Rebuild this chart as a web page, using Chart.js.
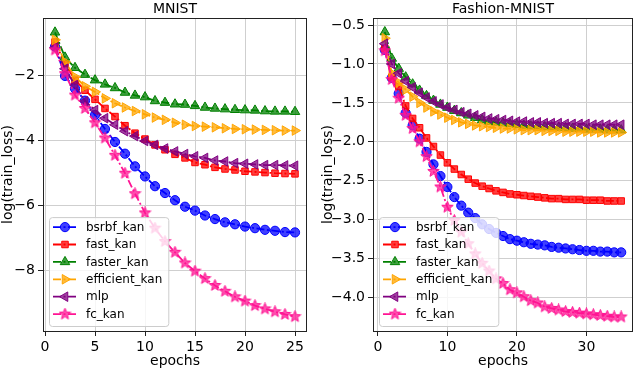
<!DOCTYPE html>
<html>
<head>
<meta charset="utf-8">
<script src="https://cdn.jsdelivr.net/npm/chart.js@4.4.1/dist/chart.umd.min.js"></script>
<style>
  html, body { margin: 0; padding: 0; background: #fff; }
  #wrap { position: relative; width: 640px; height: 368px; }
  .pane { position: absolute; top: 0; width: 320px; height: 368px; }
</style>
</head>
<body>
<div id="wrap">
  <div class="pane" style="left:0"><canvas id="mnist" width="320" height="368"></canvas></div>
  <div class="pane" style="left:320px"><canvas id="fashion" width="320" height="368"></canvas></div>
</div>
<script>
// series names, same order in both panels
const seriesNames = ['bsrbf_kan', 'fast_kan', 'faster_kan', 'efficient_kan', 'mlp', 'fc_kan'];

// MNIST: epochs 1..25
const mnistEpochs = [1,2,3,4,5,6,7,8,9,10,11,12,13,14,15,16,17,18,19,20,21,22,23,24,25];
const mnistBsrbf = [-1.12,-2.02,-2.41,-2.78,-3.22,-3.65,-4.05,-4.41,-4.80,-5.11,-5.41,-5.62,-5.84,-6.04,-6.16,-6.31,-6.42,-6.52,-6.58,-6.65,-6.70,-6.75,-6.78,-6.82,-6.83];
const mnistFast = [-0.98,-1.64,-2.15,-2.46,-2.74,-3.02,-3.27,-3.55,-3.78,-3.96,-4.14,-4.29,-4.43,-4.54,-4.68,-4.75,-4.83,-4.88,-4.91,-4.95,-4.97,-4.99,-5.01,-5.02,-5.03];
const mnistFaster = [-0.68,-1.45,-1.77,-1.98,-2.15,-2.28,-2.39,-2.53,-2.62,-2.67,-2.79,-2.84,-2.89,-2.90,-2.94,-2.99,-3.02,-3.04,-3.06,-3.07,-3.08,-3.10,-3.11,-3.11,-3.12];
const mnistEfficient = [-0.91,-1.59,-2.05,-2.34,-2.51,-2.71,-2.86,-2.99,-3.10,-3.20,-3.30,-3.37,-3.46,-3.52,-3.56,-3.58,-3.60,-3.63,-3.65,-3.66,-3.67,-3.68,-3.69,-3.70,-3.70];
const mnistMlp = [-1.15,-1.80,-2.30,-2.80,-3.07,-3.32,-3.52,-3.72,-3.87,-4.02,-4.14,-4.25,-4.34,-4.42,-4.49,-4.54,-4.62,-4.65,-4.70,-4.72,-4.74,-4.76,-4.76,-4.77,-4.78];
const mnistFc = [-1.22,-1.95,-2.61,-3.02,-3.46,-3.93,-4.46,-5.01,-5.64,-6.23,-6.70,-7.11,-7.44,-7.77,-8.02,-8.25,-8.46,-8.64,-8.81,-8.94,-9.08,-9.18,-9.27,-9.35,-9.42];
const mnistXTicks = [0, 5, 10, 15, 20, 25];
const mnistYTicks = [-2, -4, -6, -8];

// Fashion-MNIST: epochs 1..35
const fashionEpochs = [1,2,3,4,5,6,7,8,9,10,11,12,13,14,15,16,17,18,19,20,21,22,23,24,25,26,27,28,29,30,31,32,33,34,35];
const fashionBsrbf = [-0.82,-1.18,-1.38,-1.63,-1.79,-1.96,-2.13,-2.29,-2.44,-2.58,-2.71,-2.82,-2.91,-2.98,-3.06,-3.12,-3.17,-3.21,-3.25,-3.27,-3.29,-3.31,-3.32,-3.33,-3.35,-3.36,-3.37,-3.38,-3.39,-3.40,-3.40,-3.41,-3.41,-3.42,-3.42];
const fashionFast = [-0.80,-1.17,-1.29,-1.54,-1.70,-1.82,-1.95,-2.06,-2.17,-2.27,-2.35,-2.42,-2.48,-2.53,-2.57,-2.60,-2.63,-2.65,-2.67,-2.68,-2.69,-2.70,-2.71,-2.72,-2.73,-2.73,-2.74,-2.74,-2.74,-2.75,-2.75,-2.75,-2.76,-2.76,-2.76];
const fashionFaster = [-0.59,-0.93,-1.06,-1.17,-1.26,-1.34,-1.41,-1.47,-1.52,-1.56,-1.60,-1.63,-1.66,-1.69,-1.72,-1.74,-1.75,-1.76,-1.77,-1.78,-1.79,-1.80,-1.80,-1.81,-1.81,-1.82,-1.82,-1.83,-1.83,-1.84,-1.84,-1.84,-1.85,-1.85,-1.85];
const fashionEfficient = [-0.67,-1.12,-1.24,-1.33,-1.42,-1.50,-1.56,-1.61,-1.65,-1.69,-1.72,-1.75,-1.77,-1.79,-1.80,-1.81,-1.82,-1.83,-1.83,-1.84,-1.85,-1.85,-1.85,-1.86,-1.86,-1.86,-1.87,-1.87,-1.87,-1.87,-1.87,-1.88,-1.88,-1.88,-1.88];
const fashionMlp = [-0.74,-1.00,-1.12,-1.22,-1.30,-1.37,-1.43,-1.48,-1.52,-1.56,-1.59,-1.62,-1.64,-1.66,-1.68,-1.70,-1.71,-1.72,-1.73,-1.74,-1.74,-1.75,-1.75,-1.76,-1.76,-1.76,-1.77,-1.77,-1.77,-1.77,-1.78,-1.78,-1.78,-1.78,-1.78];
const fashionFc = [-0.83,-1.20,-1.44,-1.66,-1.83,-2.00,-2.19,-2.38,-2.58,-2.84,-3.01,-3.16,-3.31,-3.44,-3.56,-3.66,-3.76,-3.82,-3.90,-3.94,-3.99,-4.04,-4.07,-4.12,-4.14,-4.16,-4.18,-4.19,-4.20,-4.21,-4.22,-4.23,-4.24,-4.25,-4.25];
const fashionXTicks = [0, 10, 20, 30];
const fashionYTicks = [-0.5, -1.0, -1.5, -2.0, -2.5, -3.0, -3.5, -4.0];

const FONT = 'DejaVu Sans';
const colors = ['#0000ff', '#ff0000', '#008000', '#ffa500', '#800080', '#ff1493'];

function rgba(hex, a) {
  const n = parseInt(hex.slice(1), 16);
  return 'rgba(' + (n >> 16) + ',' + ((n >> 8) & 255) + ',' + (n & 255) + ',' + a + ')';
}

// filled 5-point star marker (Chart.js 'star' is only a cross)
function starImage(hex) {
  const c = document.createElement('canvas');
  c.width = 13; c.height = 13;
  const g = c.getContext('2d');
  g.beginPath();
  for (let i = 0; i < 10; i++) {
    const r = i % 2 ? 2.6 : 6;
    const a = -Math.PI / 2 + i * Math.PI / 5;
    g.lineTo(6.5 + r * Math.cos(a), 6.5 + r * Math.sin(a));
  }
  g.closePath();
  g.fillStyle = rgba(hex, 0.75);
  g.fill();
  g.strokeStyle = hex;
  g.lineWidth = 1;
  g.stroke();
  return c;
}

const markers = [
  { style: 'circle', rot: 0, r: 4.6 },
  { style: 'rect', rot: 0, r: 4.6 },
  { style: 'triangle', rot: 0, r: 5.5 },
  { style: 'triangle', rot: 90, r: 5.5 },
  { style: 'triangle', rot: -90, r: 5.5 },
  { style: starImage(colors[5]), rot: 0, r: 5 }
];
const dashDot = [8, 2.5, 2, 2.5];

function makeDatasets(epochs, seriesList) {
  return seriesList.map((vals, i) => ({
    label: seriesNames[i],
    data: epochs.map((e, k) => ({ x: e, y: vals[k] })),
    borderColor: colors[i],
    borderWidth: 1.8,
    borderDash: dashDot,
    pointStyle: markers[i].style,
    pointRotation: markers[i].rot,
    pointRadius: markers[i].r,
    pointBackgroundColor: rgba(colors[i], 0.75),
    pointBorderColor: colors[i],
    pointBorderWidth: 1,
    order: seriesList.length - i,
    fill: false,
    tension: 0
  }));
}

const framePlugin = {
  id: 'frame',
  afterDraw(chart) {
    const a = chart.chartArea, ctx = chart.ctx;
    ctx.save();
    ctx.strokeStyle = '#222';
    ctx.lineWidth = 1;
    ctx.strokeRect(Math.round(a.left) + 0.5, Math.round(a.top) + 0.5,
                   Math.round(a.right - a.left) - 1, Math.round(a.bottom - a.top));
    ctx.restore();
  }
};

const legendPlugin = {
  id: 'boxLegend',
  afterDatasetsDraw(chart) {
    const a = chart.chartArea, ctx = chart.ctx;
    const sets = chart.data.datasets;
    ctx.save();
    ctx.font = '12px "' + FONT + '"';
    let tw = 0;
    sets.forEach(d => { tw = Math.max(tw, ctx.measureText(d.label).width); });
    const rowH = 17.4;
    const w = 4 + 24 + 9 + tw + 6;
    const h = rowH * sets.length + 4.5;
    const x0 = a.left + 6, y0 = a.bottom - 5 - h;
    ctx.beginPath();
    ctx.roundRect(x0 + 0.5, y0 + 0.5, w, h, 3);
    ctx.fillStyle = 'rgba(255,255,255,0.8)';
    ctx.fill();
    ctx.strokeStyle = '#cccccc';
    ctx.lineWidth = 1;
    ctx.stroke();
    sets.forEach((d, i) => {
      const y = y0 + 10 + i * rowH;
      const hx = x0 + 4;
      ctx.beginPath();
      ctx.setLineDash(dashDot);
      ctx.strokeStyle = d.borderColor;
      ctx.lineWidth = 1.8;
      ctx.moveTo(hx, y);
      ctx.lineTo(hx + 24, y);
      ctx.stroke();
      ctx.setLineDash([]);
      ctx.fillStyle = d.pointBackgroundColor;
      ctx.strokeStyle = d.pointBorderColor;
      ctx.lineWidth = 1;
      Chart.helpers.drawPoint(ctx, {
        pointStyle: d.pointStyle, rotation: d.pointRotation,
        radius: d.pointRadius, borderWidth: 1
      }, hx + 12, y);
      ctx.fillStyle = '#000';
      ctx.textBaseline = 'middle';
      ctx.textAlign = 'left';
      ctx.fillText(d.label, hx + 33, y + 0.5);
    });
    ctx.restore();
  }
};

function fmtTick(v, dec) {
  const s = Math.abs(v).toFixed(dec);
  return (v < 0 ? '\u2212' : '') + s;
}

function makeChart(id, title, epochs, seriesList, xTicks, yTicks, xLim, yLim, yDec, yWidth, padRight) {
  return new Chart(document.getElementById(id).getContext('2d'), {
    type: 'line',
    data: { datasets: makeDatasets(epochs, seriesList) },
    options: {
      responsive: false,
      animation: false,
      layout: { padding: { left: 0, right: padRight, top: 0, bottom: 0 } },
      plugins: {
        legend: { display: false },
        tooltip: { enabled: false },
        title: {
          display: true, text: title, color: '#000', fullSize: false,
          font: { family: FONT, size: 14, weight: 'normal' },
          padding: { top: 1.2, bottom: 0 }
        }
      },
      scales: {
        x: {
          type: 'linear', min: xLim[0], max: xLim[1],
          afterBuildTicks: s => { s.ticks = xTicks.map(v => ({ value: v })); },
          afterFit: s => { s.height = 37; },
          ticks: { color: '#000', font: { family: FONT, size: 14 }, padding: 3, maxRotation: 0,
                   callback: v => fmtTick(v, 0) },
          grid: { color: '#cfcfcf', tickColor: '#222', tickLength: 5 },
          border: { display: false },
          title: { display: true, text: 'epochs', color: '#000',
                   font: { family: FONT, size: 14 }, padding: { top: 0, bottom: -2 } }
        },
        y: {
          type: 'linear', min: yLim[0], max: yLim[1],
          afterBuildTicks: s => { s.ticks = yTicks.map(v => ({ value: v })); },
          afterFit: s => { s.width = yWidth; },
          ticks: { color: '#000', font: { family: FONT, size: 14 }, padding: 3,
                   callback: v => fmtTick(v, yDec) },
          grid: { color: '#cfcfcf', tickColor: '#222', tickLength: 5 },
          border: { display: false },
          title: { display: true, text: 'log(train_loss)', color: '#000',
                   font: { family: FONT, size: 14 }, padding: { top: 0, bottom: 0 } }
        }
      }
    },
    plugins: [framePlugin, legendPlugin]
  });
}

makeChart('mnist', 'MNIST', mnistEpochs,
  [mnistBsrbf, mnistFast, mnistFaster, mnistEfficient, mnistMlp, mnistFc],
  mnistXTicks, mnistYTicks, [-0.2, 26.2], [-9.86, -0.24], 0, 43, 13);

makeChart('fashion', 'Fashion-MNIST', fashionEpochs,
  [fashionBsrbf, fashionFast, fashionFaster, fashionEfficient, fashionMlp, fashionFc],
  fashionXTicks, fashionYTicks, [-0.7, 36.7], [-4.43, -0.41], 1, 53, 7);
</script>
</body>
</html>
